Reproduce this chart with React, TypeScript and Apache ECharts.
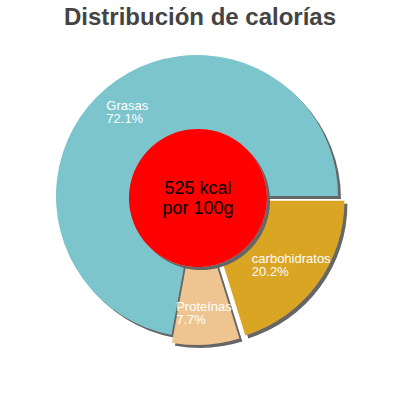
import React, { useEffect, useRef } from "react";
import * as echarts from "echarts";
import type { EChartsOption } from "echarts";

// slices, clockwise from 3 o'clock
const names = ["carbohidratos", "Proteínas", "Grasas"];
const percents = [20.2, 7.7, 72.1];
const colors = ["#daa520", "#eec591", "#7bc5cd"];
const exploded = [true, true, false];
const energyText = "525 kcal\npor 100g";

const App: React.FC = () => {
  const chartRef = useRef<HTMLDivElement | null>(null);

  useEffect(() => {
    if (!chartRef.current) return;
    const myChart = echarts.init(chartRef.current, null, { renderer: "svg" });

    const center = [197, 196];
    const shadow = {
      shadowColor: "#666",
      shadowBlur: 0,
      shadowOffsetX: 3,
      shadowOffsetY: 3,
    };

    const option: EChartsOption = {
      animation: false,
      title: {
        text: "Distribución de calorías",
        left: "center",
        top: 4,
        padding: 0,
        textStyle: {
          fontFamily: "Liberation Sans",
          fontSize: 24,
          fontWeight: "bold",
          color: "#444",
        },
      },
      series: [
        {
          // the slices themselves
          type: "pie",
          center,
          radius: [0, 141],
          startAngle: 0,
          clockwise: true,
          selectedMode: "multiple",
          selectedOffset: 8,
          silent: true,
          label: { show: false },
          labelLine: { show: false },
          data: names.map((n, i) => ({
            name: n,
            value: percents[i],
            selected: exploded[i],
            itemStyle: { color: colors[i], ...shadow },
            select: { itemStyle: { color: colors[i], ...shadow } },
          })),
        },
        {
          // transparent ring carrying the labels
          type: "pie",
          center,
          radius: [71, 141],
          startAngle: 0,
          clockwise: true,
          selectedMode: "multiple",
          selectedOffset: 8,
          silent: true,
          z: 5,
          label: {
            show: true,
            position: "inside",
            formatter: (p: any) => `{l|${p.name}}\n{l|${p.value}%}`,
            rich: {
              l: {
                align: "left",
                color: "#fff",
                fontFamily: "Liberation Sans",
                fontSize: 13,
                lineHeight: 13,
              },
            },
          },
          labelLine: { show: false },
          data: names.map((n, i) => ({
            name: n,
            value: percents[i],
            selected: exploded[i],
            itemStyle: { color: "rgba(0,0,0,0)" },
            select: { itemStyle: { color: "rgba(0,0,0,0)" } },
          })),
        },
        {
          // red centre disc
          type: "pie",
          center: [198, 198],
          radius: [0, 69],
          silent: true,
          z: 6,
          label: {
            show: true,
            position: "center",
            formatter: energyText,
            color: "#000",
            fontFamily: "Liberation Sans",
            fontSize: 18,
            lineHeight: 20,
          },
          labelLine: { show: false },
          data: [
            {
              name: "energia",
              value: 1,
              itemStyle: { color: "#ff0000", ...shadow },
            },
          ],
        },
      ],
    };

    myChart.setOption(option);

    return () => {
      myChart.dispose();
    };
  }, []);

  return (
    <div
      ref={chartRef}
      style={{ position: "absolute", left: 0, top: 0, width: "400px", height: "400px" }}
    />
  );
};

export default App;
